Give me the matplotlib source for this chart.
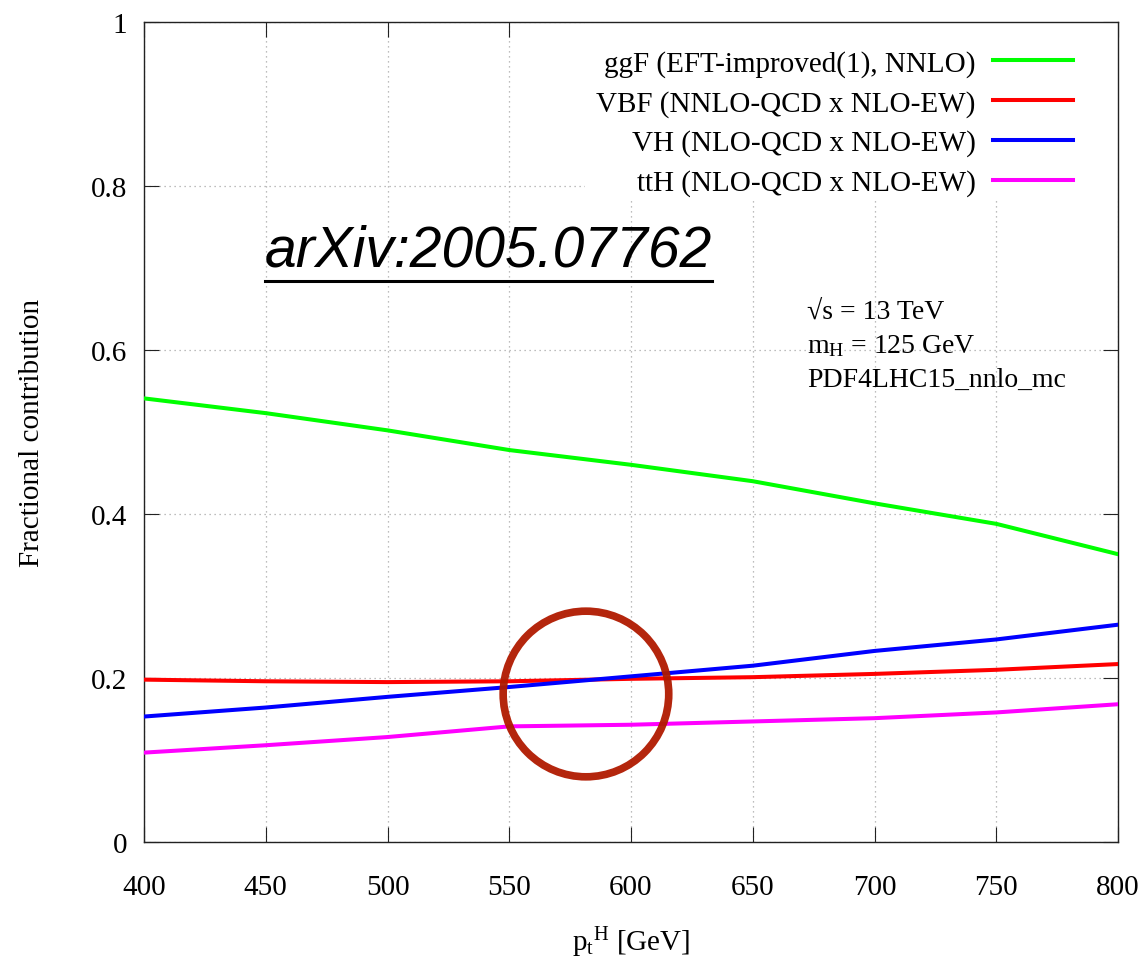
import numpy as np
import matplotlib
matplotlib.use('Agg')
import matplotlib.pyplot as plt
from matplotlib.patches import Ellipse, Rectangle
from matplotlib.lines import Line2D

plt.rcParams['font.family'] = ['Liberation Serif', 'DejaVu Serif']
plt.rcParams['mathtext.fontset'] = 'custom'
plt.rcParams['mathtext.rm'] = 'Liberation Serif'
plt.rcParams['mathtext.it'] = 'Liberation Serif:italic'

# ====================================================================
# Data
# ====================================================================
pt_H = [400, 450, 500, 550, 600, 650, 700, 750, 800]

frac_ggF = [0.541, 0.523, 0.502, 0.478, 0.460, 0.440, 0.413, 0.388, 0.351]
frac_VBF = [0.198, 0.196, 0.195, 0.196, 0.199, 0.201, 0.205, 0.210, 0.217]
frac_VH = [0.153, 0.164, 0.177, 0.189, 0.202, 0.215, 0.233, 0.247, 0.265]
frac_ttH = [0.109, 0.118, 0.128, 0.141, 0.143, 0.147, 0.151, 0.158, 0.168]

SERIES = [
    ('ggF (EFT-improved(1), NNLO)', frac_ggF, '#00ff00'),
    ('VBF (NNLO-QCD x NLO-EW)', frac_VBF, '#ff0000'),
    ('VH (NLO-QCD x NLO-EW)', frac_VH, '#0000ff'),
    ('ttH (NLO-QCD x NLO-EW)', frac_ttH, '#ff00ff'),
]

x_ticks = [400, 450, 500, 550, 600, 650, 700, 750, 800]
y_ticks = [0, 0.2, 0.4, 0.6, 0.8, 1.0]
y_tick_labels = ['0', '0.2', '0.4', '0.6', '0.8', '1']

# highlighted crossing region (hand-drawn circle)
circ_center = (581.5, 0.1805)
circ_w, circ_h = 68, 0.202

# ====================================================================
# Plot
# ====================================================================
W, H = 1148, 962
fig = plt.figure(figsize=(W / 100, H / 100), dpi=100)
ax = fig.add_axes([144 / W, 1 - 843 / H, 974 / W, 820 / H])

ax.set_xlim(400, 800)
ax.set_ylim(0, 1)
ax.set_xticks(x_ticks)
ax.set_yticks(y_ticks)
ax.set_yticklabels(y_tick_labels)
ax.tick_params(direction='in', length=11, width=0.8, labelsize=21,
               top=True, right=True, color='#222222')
ax.tick_params(axis='x', pad=23)
ax.tick_params(axis='y', pad=12)
for sp in ax.spines.values():
    sp.set_linewidth(1.0)
    sp.set_color('#222222')

ax.set_axisbelow(True)
ax.grid(True, color='#a8a8a8', linestyle=(0, (1, 3)), linewidth=0.9)

# opaque key area
ax.add_patch(Rectangle((0.453, 0.784), 0.547, 0.216, transform=ax.transAxes,
                       facecolor='white', edgecolor='none', zorder=1))

for label, vals, color in SERIES:
    ax.plot(pt_H, vals, color=color, linewidth=2.9, label=label, zorder=3,
            solid_joinstyle='round')

leg = ax.legend(loc='upper right', bbox_to_anchor=(0.954, 0.966), frameon=False,
                markerfirst=False, fontsize=21, handlelength=2.75,
                handletextpad=0.6, labelspacing=0.44, borderpad=0,
                borderaxespad=0)

ax.add_patch(Ellipse(circ_center, circ_w, circ_h, fill=False,
                     edgecolor='#b01a00', linewidth=5.5, alpha=0.95, zorder=4))

# annotations
arx = ax.text(0.1242, 0.7028, 'arXiv:2005.07762', transform=ax.transAxes,
              family=['Liberation Sans', 'DejaVu Sans'], style='italic',
              fontsize=41, va='baseline', ha='left')

info = ['\u221as = 13 TeV', r'm$_{\mathrm{H}}$ = 125 GeV', 'PDF4LHC15_nnlo_mc']
for i, t in enumerate(info):
    ax.text(0.681, (843 - 319 - 34 * i) / 820, t, transform=ax.transAxes,
            fontsize=20, va='baseline', ha='left')

ax.set_xlabel(r'p$_{\mathrm{t}}$$^{\mathrm{H}}$ [GeV]', fontsize=21, labelpad=18)
ax.set_ylabel('Fractional contribution', fontsize=21)
ax.yaxis.set_label_coords(-0.1016, 0.5)

# underline for the arXiv tag
fig.canvas.draw()
bb = arx.get_window_extent()
y_ul = bb.y0 - 3
fig.add_artist(Line2D([bb.x0 / W, bb.x1 / W], [y_ul / H, y_ul / H],
                      transform=fig.transFigure, color='black', linewidth=2.2))

fig.savefig('out.png', dpi=100)
